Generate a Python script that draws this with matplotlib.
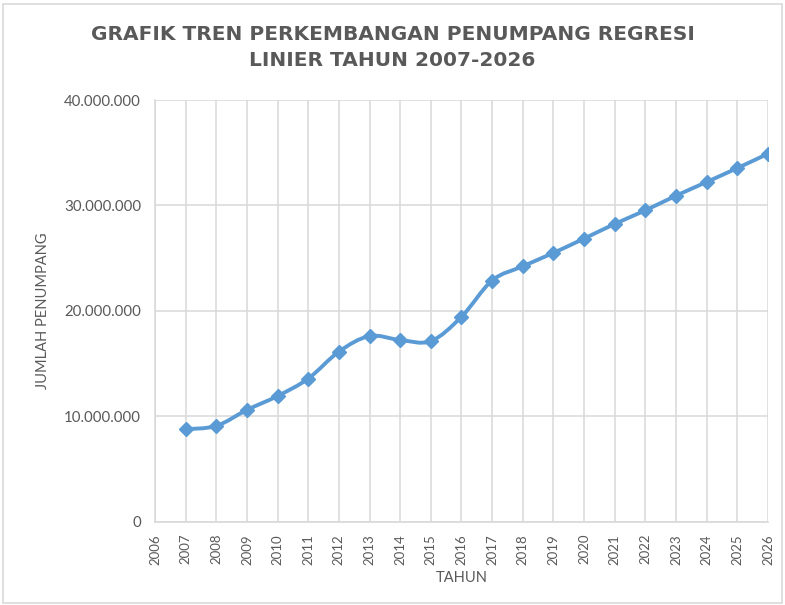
import matplotlib
matplotlib.use('Agg')
import matplotlib.pyplot as plt
from matplotlib.path import Path
from matplotlib.patches import PathPatch, Rectangle
from matplotlib.ticker import FuncFormatter

plt.rcParams['font.family'] = ['Lato', 'DejaVu Sans']

# data
tahun = [2007, 2008, 2009, 2010, 2011, 2012, 2013, 2014, 2015, 2016,
         2017, 2018, 2019, 2020, 2021, 2022, 2023, 2024, 2025, 2026]
penumpang = [8760000, 9070000, 10590000, 11910000, 13560000, 16120000,
             17600000, 17220000, 17120000, 19430000, 22870000, 24220000,
             25490000, 26850000, 28240000, 29530000, 30920000, 32220000,
             33540000, 34900000]
x_ticks = list(range(2006, 2027))
y_ticks = [0, 10000000, 20000000, 30000000, 40000000]

biru = '#5B9BD5'
abu = '#595959'
grid_c = '#D9D9D9'

fig = plt.figure(figsize=(7.85, 6.05), dpi=100)
fig.patches.append(Rectangle((0.004, 0.004), 0.992, 0.99, transform=fig.transFigure,
                             fill=False, edgecolor='#D9D9D9', linewidth=1.2))
ax = fig.add_axes([155/785, 1 - 521.5/605, (768 - 155)/785, (521.5 - 100)/605])

# smoothed line like excel (bezier through the points)
verts = [(tahun[0], penumpang[0])]
codes = [Path.MOVETO]
n = len(tahun)
for i in range(n - 1):
    p0 = (tahun[max(i - 1, 0)], penumpang[max(i - 1, 0)])
    p1 = (tahun[i], penumpang[i])
    p2 = (tahun[i + 1], penumpang[i + 1])
    p3 = (tahun[min(i + 2, n - 1)], penumpang[min(i + 2, n - 1)])
    c1 = (p1[0] + (p2[0] - p0[0]) / 6, p1[1] + (p2[1] - p0[1]) / 6)
    c2 = (p2[0] - (p3[0] - p1[0]) / 6, p2[1] - (p3[1] - p1[1]) / 6)
    verts += [c1, c2, p2]
    codes += [Path.CURVE4] * 3
ax.add_patch(PathPatch(Path(verts, codes), facecolor='none', edgecolor=biru,
                       linewidth=2.8, capstyle='round', joinstyle='round', zorder=3))
ax.plot(tahun, penumpang, linestyle='none', marker='D', markersize=7,
        color=biru, markeredgecolor=biru, zorder=4)

ax.set_xlim(2006, 2026)
ax.set_ylim(0, 40000000)
ax.set_xticks(x_ticks)
ax.set_xticklabels([str(t) for t in x_ticks], rotation=90)
ax.set_yticks(y_ticks)
ax.yaxis.set_major_formatter(FuncFormatter(lambda v, p: f'{int(v):,}'.replace(',', '.')))

ax.grid(True, color=grid_c, linewidth=1.1)
ax.set_axisbelow(True)
for s in ['top', 'right']:
    ax.spines[s].set_visible(False)
for s in ['left', 'bottom']:
    ax.spines[s].set_color(grid_c)
    ax.spines[s].set_linewidth(1.2)
ax.tick_params(axis='both', length=0, colors=abu)
ax.tick_params(axis='y', pad=10, labelsize=10.8)
ax.tick_params(axis='x', pad=9, labelsize=9.5)

ax.set_xlabel('TAHUN', color=abu, fontsize=10.5)
ax.set_ylabel('JUMLAH PENUMPANG', color=abu, fontsize=10.5)
ax.xaxis.set_label_coords(0.5, -0.118)
ax.yaxis.set_label_coords(-0.171, 0.5)

fig.text(0.5, 1 - 35/605, 'GRAFIK TREN PERKEMBANGAN PENUMPANG REGRESI', ha='center', va='center',
         fontsize=14.5, fontweight='bold', color=abu, family='DejaVu Sans')
fig.text(0.5, 1 - 61/605, 'LINIER TAHUN 2007-2026', ha='center', va='center',
         fontsize=14.5, fontweight='bold', color=abu, family='DejaVu Sans')

fig.savefig('out.png', dpi=100)
